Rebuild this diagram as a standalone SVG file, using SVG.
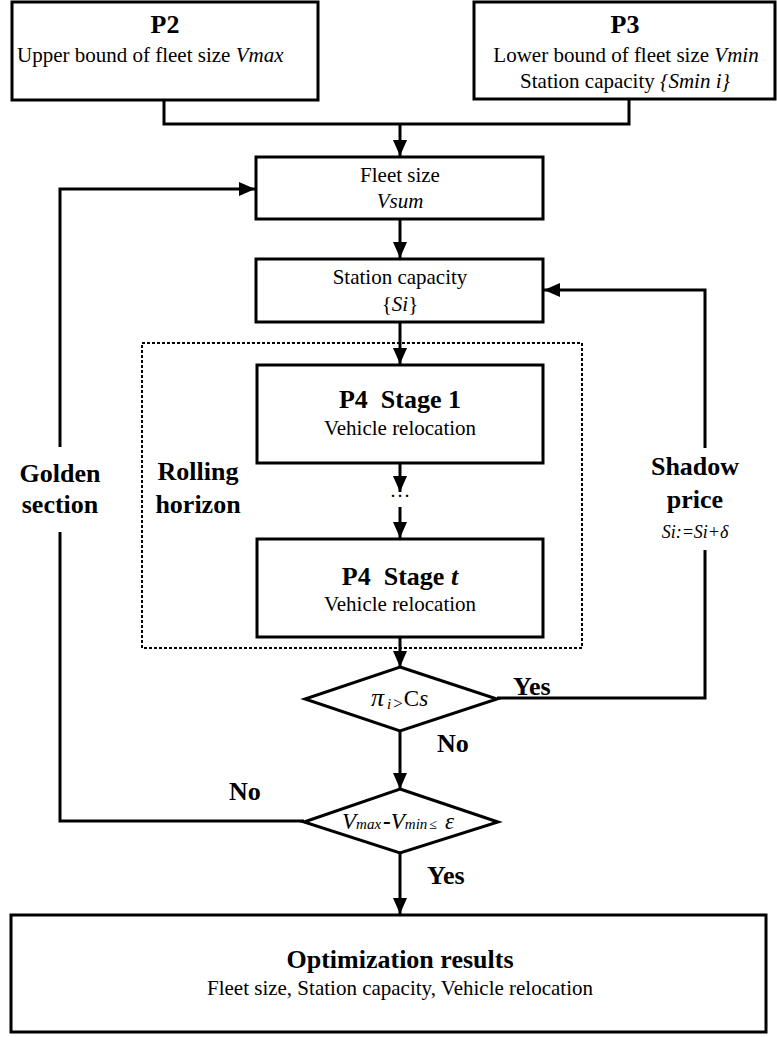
<svg xmlns="http://www.w3.org/2000/svg" width="777" height="1037" viewBox="0 0 777 1037">
<style>
.box{fill:#fff;stroke:#000;stroke-width:3}
.ln{fill:none;stroke:#000;stroke-width:3}
.dash{fill:none;stroke:#000;stroke-width:2;stroke-dasharray:3 2}
text{font-family:"Liberation Serif","Times New Roman",serif;fill:#000}
.b{font-weight:bold;font-size:26px}
.r{font-size:21px}
.i{font-style:italic}
.c{text-anchor:middle}
</style>
<defs>
<marker id="ah" markerUnits="userSpaceOnUse" markerWidth="18" markerHeight="16" refX="16" refY="7" orient="auto">
<path d="M0,0 L16,7 L0,14 z" fill="#000"/>
</marker>
</defs>
<rect width="777" height="1037" fill="#fff"/>

<g id="connectors">
<polyline class="ln" points="164,100 164,124 629,124 629,100"/>
<line class="ln" x1="400" y1="124" x2="400" y2="156" marker-end="url(#ah)"/>
<line class="ln" x1="400" y1="219" x2="400" y2="258" marker-end="url(#ah)"/>
<line class="ln" x1="400" y1="322" x2="400" y2="364" marker-end="url(#ah)"/>
<line class="ln" x1="400" y1="463" x2="400" y2="492" marker-end="url(#ah)"/>
<line class="ln" x1="400" y1="507" x2="400" y2="538" marker-end="url(#ah)"/>
<line class="ln" x1="400" y1="637" x2="400" y2="667" marker-end="url(#ah)"/>
<line class="ln" x1="400" y1="731" x2="400" y2="789" marker-end="url(#ah)"/>
<line class="ln" x1="400" y1="853" x2="400" y2="914" marker-end="url(#ah)"/>
<polyline class="ln" points="497,698 705,698 705,550"/>
<polyline class="ln" points="705,448 705,290 544,290" marker-end="url(#ah)"/>
<polyline class="ln" points="304,821 60,821 60,532"/>
<polyline class="ln" points="60,447 60,189 255,189" marker-end="url(#ah)"/>
<rect class="dash" x="142" y="343" width="440" height="305"/>
</g>

<g id="p2">
<rect class="box" x="12" y="2" width="306" height="98"/>
<text class="b c" x="165" y="33">P2</text>
<text class="r" x="17" y="62">Upper bound of fleet size <tspan class="i">Vmax</tspan></text>
</g>

<g id="p3">
<rect class="box" x="474" y="2" width="301" height="97"/>
<text class="b c" x="625" y="33">P3</text>
<text class="r c" x="626" y="62">Lower bound of fleet size <tspan class="i">Vmin</tspan></text>
<text class="r c" x="625" y="88">Station capacity <tspan class="i">{Smin i}</tspan></text>
</g>

<g id="fleet">
<rect class="box" x="256" y="157" width="287" height="62"/>
<text class="r c" x="400" y="182">Fleet size</text>
<text class="r c i" x="400" y="208">Vsum</text>
</g>

<g id="station">
<rect class="box" x="256" y="259" width="287" height="63"/>
<text class="r c" x="400" y="284">Station capacity</text>
<text class="r c" x="400" y="311">{<tspan class="i">Si</tspan>}</text>
</g>

<g id="rolling">
<text class="b c" x="198" y="480">Rolling</text>
<text class="b c" x="198" y="513">horizon</text>
</g>

<g id="stage1">
<rect class="box" x="257" y="365" width="286" height="98"/>
<text class="b c" x="400" y="408" xml:space="preserve">P4  Stage 1</text>
<text class="r c" x="400" y="435">Vehicle relocation</text>
</g>

<g id="dots">
<text class="r c" x="400" y="503">···</text>
</g>

<g id="staget">
<rect class="box" x="257" y="539" width="286" height="98"/>
<text class="b c" x="400" y="585" xml:space="preserve">P4  Stage <tspan class="i">t</tspan></text>
<text class="r c" x="400" y="611">Vehicle relocation</text>
</g>

<g id="golden">
<text class="b c" x="60" y="482">Golden</text>
<text class="b c" x="60" y="513">section</text>
</g>

<g id="shadow">
<text class="b c" x="695" y="475">Shadow</text>
<text class="b c" x="695" y="508">price</text>
<text class="c i" x="695" y="538" style="font-size:18px">Si:=Si+δ</text>
</g>

<g id="dec1">
<polygon class="box" points="400,667 497,699 400,731 305,699"/>
<text x="371" y="706" style="font-size:26px"><tspan class="i">π</tspan><tspan class="i" style="font-size:15px" dx="3" dy="3">i</tspan><tspan style="font-size:17px" dx="2">&gt;</tspan><tspan style="font-size:23px" dx="1" dy="-3">C</tspan><tspan class="i" style="font-size:23px">s</tspan></text>
</g>

<g id="dec2">
<polygon class="box" points="400,789 498,822 400,853 304,822"/>
<text x="342" y="829" style="font-size:23px"><tspan class="i">V</tspan><tspan class="i" style="font-size:15px">max</tspan><tspan style="font-weight:bold" dx="2">-</tspan><tspan class="i">V</tspan><tspan class="i" style="font-size:15px">min</tspan><tspan style="font-size:14px" dx="2">≤</tspan><tspan class="i" dx="8">ε</tspan></text>
</g>

<g id="labels">
<text class="b" x="513" y="695">Yes</text>
<text class="b" x="437" y="752">No</text>
<text class="b" x="229" y="800">No</text>
<text class="b" x="427" y="884">Yes</text>
</g>

<g id="result">
<rect class="box" x="11" y="915" width="755" height="117"/>
<text class="b c" x="400" y="968">Optimization results</text>
<text class="r c" x="400" y="995">Fleet size, Station capacity, Vehicle relocation</text>
</g>
</svg>
